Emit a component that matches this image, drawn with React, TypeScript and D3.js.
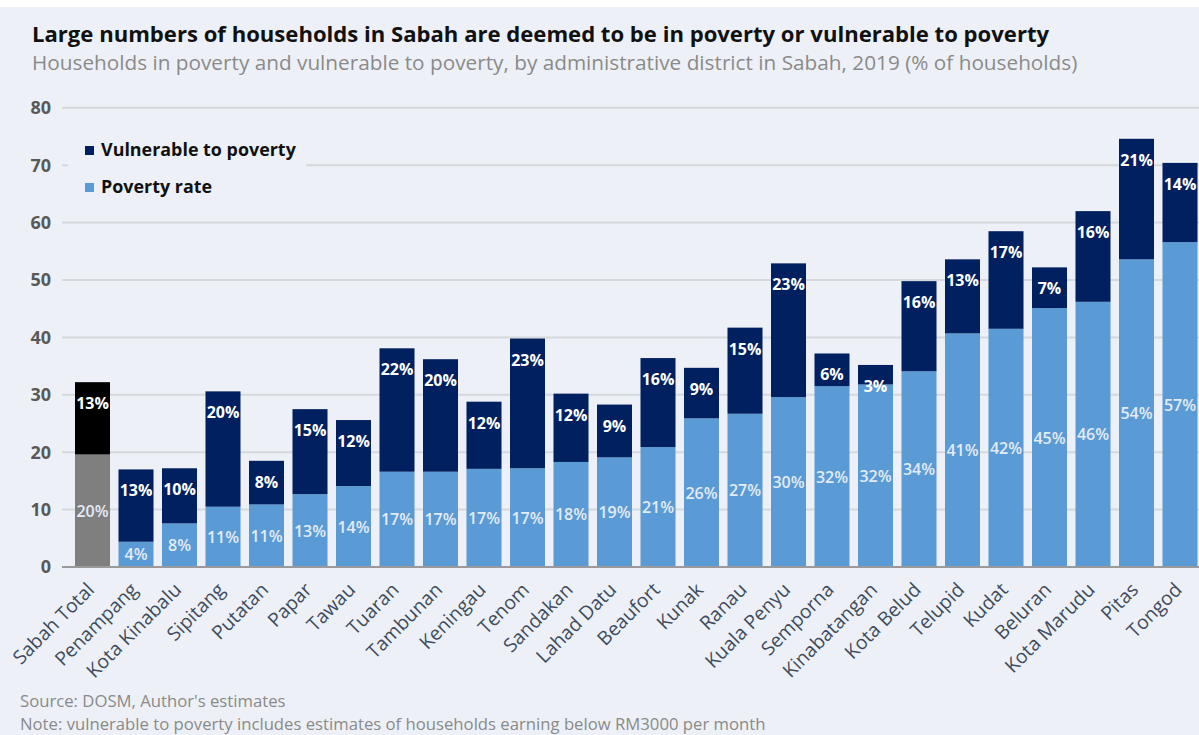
import React from "react";
import * as d3 from "d3";

const categories = [
  "Sabah Total", "Penampang", "Kota Kinabalu", "Sipitang", "Putatan", "Papar", "Tawau",
  "Tuaran", "Tambunan", "Keningau", "Tenom", "Sandakan", "Lahad Datu", "Beaufort",
  "Kunak", "Ranau", "Kuala Penyu", "Semporna", "Kinabatangan", "Kota Belud", "Telupid",
  "Kudat", "Beluran", "Kota Marudu", "Pitas", "Tongod",
];
const povertyRate = [
  19.6, 4.4, 7.6, 10.5, 10.9, 12.7, 14.1, 16.6, 16.6, 17.1, 17.2, 18.3, 19.1, 20.9,
  25.9, 26.7, 29.6, 31.5, 31.8, 34.1, 40.7, 41.5, 45.1, 46.2, 53.6, 56.6,
];
const vulnerable = [
  12.6, 12.6, 9.6, 20.1, 7.6, 14.8, 11.5, 21.5, 19.6, 11.7, 22.6, 11.9, 9.2, 15.5,
  8.8, 15.0, 23.3, 5.7, 3.4, 15.7, 12.9, 17.0, 7.1, 15.8, 21.0, 13.8,
];
const yTicks = [0, 10, 20, 30, 40, 50, 60, 70, 80];
const seriesNames = ["Vulnerable to poverty", "Poverty rate"];

const W = 1199;
const H = 735;
const FONT = "'Open Sans', 'Noto Sans', sans-serif";
const NAVY = "#002060";
const LIGHT = "#5b9bd5";

export default function App() {
  const x = d3
    .scaleBand<string>()
    .domain(categories)
    .range([70.75, 70.75 + 26 * 43.5])
    .paddingInner(0.195)
    .paddingOuter(0.0975);
  const y = d3.scaleLinear().domain([0, 80]).range([567, 107.8]);
  const bw = x.bandwidth();

  return (
    <svg
      width={W}
      height={H}
      style={{ position: "absolute", left: 0, top: 0, fontFamily: FONT }}
    >
      <rect x={0} y={0} width={W} height={H} fill="#ffffff" />
      <rect x={0} y={7} width={W} height={H - 7} fill="#edf1f7" />

      <text x={32} y={42} fontSize={22.1} fontWeight={700} fill="#111">
        Large numbers of households in Sabah are deemed to be in poverty or vulnerable to poverty
      </text>
      <text x={32} y={70} fontSize={20.75} fill="#8a8a8a">
        Households in poverty and vulnerable to poverty, by administrative district in Sabah, 2019 (% of households)
      </text>

      {yTicks.map((t) => (
        <g key={t}>
          {t > 0 && (
            <line x1={62} x2={W} y1={y(t)} y2={y(t)} stroke="#d5d8dc" strokeWidth={2} />
          )}
          <text
            x={51}
            y={y(t)}
            dy="0.36em"
            textAnchor="end"
            fontSize={18}
            fontWeight={700}
            fill="#595959"
          >
            {t}
          </text>
        </g>
      ))}

      {/* legend */}
      <rect x={68} y={134} width={238} height={66} fill="#edf1f7" />
      {seriesNames.map((s, i) => (
        <g key={s}>
          <rect x={85} y={146 + i * 37} width={9} height={9} fill={i === 0 ? NAVY : LIGHT} />
          <text x={101} y={156 + i * 37} fontSize={17.9} fontWeight={700} fill="#111">
            {s}
          </text>
        </g>
      ))}

      {categories.map((c, i) => {
        const x0 = x(c) as number;
        const p = povertyRate[i];
        const v = vulnerable[i];
        const isTotal = i === 0;
        const top = y(p + v);
        return (
          <g key={c}>
            <rect
              x={x0}
              y={y(p)}
              width={bw}
              height={y(0) - y(p)}
              fill={isTotal ? "#7f7f7f" : LIGHT}
            />
            <rect
              x={x0}
              y={top}
              width={bw}
              height={y(p) - top}
              fill={isTotal ? "#000000" : NAVY}
            />
            <text
              x={x0 + bw / 2}
              y={top + 27}
              textAnchor="middle"
              fontSize={16}
              fontWeight={700}
              fill="#ffffff"
            >
              {Math.round(v)}%
            </text>
            <text
              x={x0 + bw / 2}
              y={(y(p) + y(0)) / 2 + 6}
              textAnchor="middle"
              fontSize={16}
              fontWeight={600}
              fill="#e3ebf5"
            >
              {Math.round(p)}%
            </text>
            <text
              transform={`translate(${x0 + bw / 2 + 3},${591}) rotate(-45)`}
              textAnchor="end"
              fontSize={19.3}
              fill="#3e4c5e"
            >
              {c}
            </text>
          </g>
        );
      })}

      <line x1={62} x2={W} y1={y(0)} y2={y(0)} stroke="#9a9a9a" strokeWidth={2} />

      <text x={20} y={707} fontSize={16.7} fill="#8a8a8a">
        Source: DOSM, Author's estimates
      </text>
      <text x={20} y={730} fontSize={16.7} fill="#8a8a8a">
        Note: vulnerable to poverty includes estimates of households earning below RM3000 per month
      </text>
    </svg>
  );
}
